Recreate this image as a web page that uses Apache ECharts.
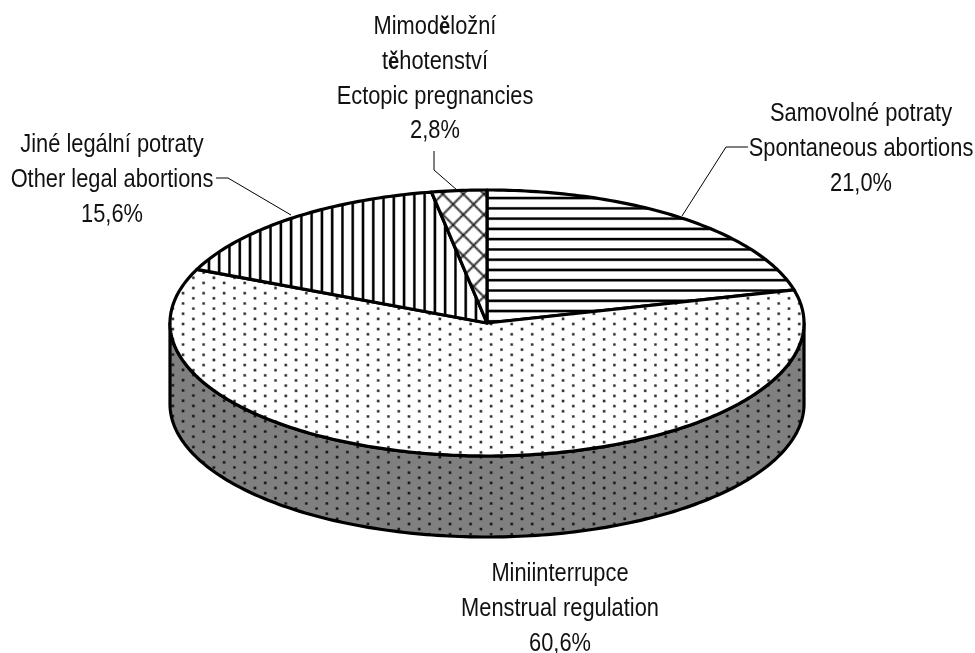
<!DOCTYPE html>
<html><head><meta charset="utf-8">
<style>html,body{margin:0;padding:0;background:#fff}#c{width:975px;height:653px}</style>
<script src="https://cdn.jsdelivr.net/npm/echarts@6/dist/echarts.min.js"></script></head>
<body><div id="c"></div>
<script>
const categories = ['Samovolné potraty', 'Miniinterrupce', 'Jiné legální potraty', 'Mimoděložní'];
const english = ['Spontaneous abortions', 'Menstrual regulation', 'Other legal abortions', 'Ectopic pregnancies'];
const values = [21.0, 60.6, 15.6, 2.8];
const valueLabels = ['21,0%', '60,6%', '15,6%', '2,8%'];

const CX = 487, CY = 323, RX = 317, RY = 133, DEPTH = 81;
const UNIT = 10.27 / 8;

function tile(w, h, draw) {
  const c = document.createElement('canvas');
  c.width = w; c.height = h;
  const g = c.getContext('2d');
  g.fillStyle = '#fff'; g.fillRect(0, 0, w, h);
  g.fillStyle = '#000'; g.strokeStyle = '#000';
  draw(g);
  return c;
}
function dots(bg) {
  return tile(16, 8, g => {
    g.fillStyle = bg; g.fillRect(0, 0, 16, 8);
    g.fillStyle = '#000';
    g.beginPath(); g.arc(4, 2, 1.1, 0, 7); g.fill();
    g.beginPath(); g.arc(12, 6, 1.1, 0, 7); g.fill();
  });
}
const pat = (img, ox, oy) => ({ image: img, repeat: 'repeat', scaleX: UNIT, scaleY: UNIT, x: ox, y: oy });
const fills = [
  pat(tile(8, 8, g => g.fillRect(0, 3, 8, 2)), 0, 192.9),
  pat(dots('#fff'), 177.9, 321.4),
  pat(tile(8, 8, g => g.fillRect(3, 0, 2, 8)), 398.9, 0),
  pat(tile(16, 16, g => {
    g.lineWidth = 1.5; g.strokeStyle = '#222';
    for (let i = -16; i <= 32; i += 16) {
      g.beginPath(); g.moveTo(i, 0); g.lineTo(i + 16, 16); g.stroke();
      g.beginPath(); g.moveTo(i + 16, 0); g.lineTo(i, 16); g.stroke();
    }
  }), 463.3, 194)
];
const wallFill = pat(dots('#808080'), 177.9, 408.4);

const total = values.reduce((a, b) => a + b, 0);
function pt(frac, dy) {
  const a = frac * 2 * Math.PI;
  return [CX + RX * Math.sin(a), CY - RY * Math.cos(a) + (dy || 0)];
}
function arc(f0, f1, dy) {
  const n = Math.max(2, Math.ceil(Math.abs(f1 - f0) * 360));
  const out = [];
  for (let i = 0; i <= n; i++) out.push(pt(f0 + (f1 - f0) * i / n, dy));
  return out;
}
const label = (text, x, y) => ({
  type: 'text', z2: 20, x, y, scaleX: 0.84, scaleY: 1,
  style: {
    x: 0, y: 0, text, align: 'center', verticalAlign: 'top',
    fontFamily: '"Liberation Sans",sans-serif', fontSize: 26, lineHeight: 34.6, fill: '#111',
    rich: { b: { fontFamily: '"Liberation Sans",sans-serif', fontWeight: 'bold', fontSize: 24, lineHeight: 34.6, fill: '#111' } }
  }
});
const labelTexts = [
  { t: categories[0] + '\n' + english[0] + '\n' + valueLabels[0], x: 861, y: 97 },
  { t: categories[1] + '\n' + english[1] + '\n' + valueLabels[1], x: 560, y: 557 },
  { t: categories[2] + '\n' + english[2] + '\n' + valueLabels[2], x: 112, y: 128 },
  { t: 'Mimod{b|ě}ložní\nt{b|ě}hotenství\n' + english[3] + '\n' + valueLabels[3], x: 435, y: 10 }
];
const leaders = [
  [[748, 147], [726, 147], [682, 216]],
  null,
  [[216, 178], [228, 178], [291, 215]],
  [[434, 151], [434, 170], [457, 190]]
];

function renderItem(params, api) {
  const i = params.dataIndex;
  const before = values.slice(0, i).reduce((a, b) => a + b, 0) / total;
  const f0 = before, f1 = before + api.value(0) / total;
  const children = [];
  const stroke = { stroke: '#000', lineWidth: 3.2, lineJoin: 'round' };
  if (f0 < 0.75 && f1 > 0.25) {
    const a = Math.max(f0, 0.25), b = Math.min(f1, 0.75);
    children.push({
      type: 'polygon', z2: 1,
      shape: { points: arc(a, b, 0).concat(arc(b, a, DEPTH)) },
      style: Object.assign({ fill: wallFill }, stroke)
    });
  }
  children.push({
    type: 'polygon', z2: 5,
    shape: { points: [[CX, CY]].concat(arc(f0, f1, 0)) },
    style: Object.assign({ fill: fills[i] }, stroke)
  });
  const t = labelTexts[i];
  children.push(label(t.t, t.x, t.y));
  if (leaders[i]) children.push({
    type: 'polyline', z2: 4, shape: { points: leaders[i] },
    style: { fill: 'none', stroke: '#000', lineWidth: 1 }
  });
  return { type: 'group', children };
}

const chart = echarts.init(document.getElementById('c'), null, { renderer: 'canvas' });
chart.setOption({
  animation: false,
  backgroundColor: '#fff',
  series: [{
    type: 'custom',
    coordinateSystem: 'none',
    renderItem,
    data: values.map((v, i) => ({ name: categories[i], value: [v] }))
  }]
});
</script></body></html>
